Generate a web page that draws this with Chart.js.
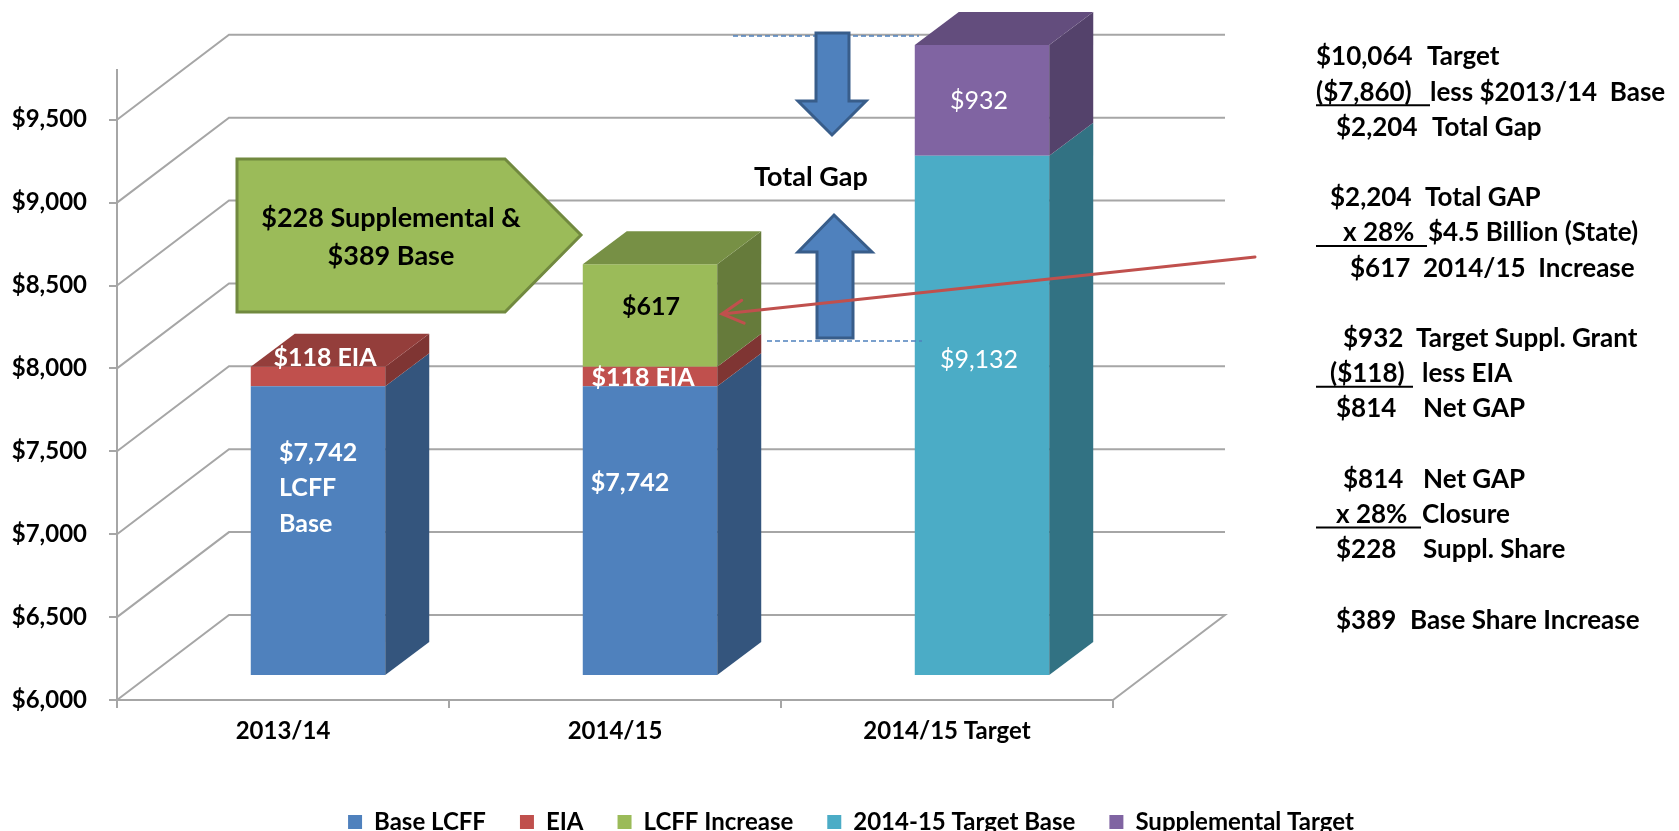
<!DOCTYPE html>
<html>
<head>
<meta charset="utf-8">
<title>LCFF Gap</title>
<script src="https://cdn.jsdelivr.net/npm/chart.js@4.4.1/dist/chart.umd.min.js"></script>
<style>
  html, body { margin: 0; padding: 0; background: #fff; }
  #wrap { position: relative; width: 1679px; height: 831px; }
</style>
</head>
<body>
<div id="wrap"><canvas id="gapChart"></canvas></div>
<script>
// ---- data ----
const categories = ['2013/14', '2014/15', '2014/15 Target'];
const baseLcff = [7742, 7742, null];
const eia = [118, 118, null];
const lcffIncrease = [null, 617, null];
const targetBase = [null, null, 9132];
const supplementalTarget = [null, null, 932];
const yTickValues = [6000, 6500, 7000, 7500, 8000, 8500, 9000, 9500];
const yMin = 6000;
const yMax = 9800;

// text on the bars, per dataset / category
const segmentText = [
    ['$7,742\nLCFF\nBase', '$7,742', null],
    ['$118 EIA', '$118 EIA', null],
    [null, '$617', null],
    [null, null, '$9,132'],
    [null, null, '$932']
];

const calloutText = ['$228 Supplemental &', '$389 Base'];
const gapText = 'Total Gap';

const calcNumbers = ['$10,064', '($7,860)', '$2,204', '$2,204', 'x 28%', '$617',
    '$932', '($118)', '$814', '$814', 'x 28%', '$228', '$389'];
const calcTexts = ['Target', 'less $2013/14  Base', 'Total Gap', 'Total GAP',
    '$4.5 Billion (State)', '2014/15  Increase', 'Target Suppl. Grant', 'less EIA',
    'Net GAP', 'Net GAP', 'Closure', 'Suppl. Share', 'Base Share Increase'];

const seriesColors = ['#4F81BD', '#C0504D', '#9BBB59', '#4BACC6', '#8064A2'];

Chart.defaults.font.family = 'Lato';
Chart.defaults.color = '#000';

// depth offsets of the fake 3D box
const WALL = { x: 112, y: -85 };
const FRONT = { x: 35, y: -25 };
const SIDE = { x: 44, y: -33 };
const GRID = '#a6a6a6';

function shade(hex, f) {
    const n = parseInt(hex.slice(1), 16);
    const r = Math.round(((n >> 16) & 255) * f);
    const g = Math.round(((n >> 8) & 255) * f);
    const b = Math.round((n & 255) * f);
    return 'rgb(' + r + ',' + g + ',' + b + ')';
}

const walls3d = {
    id: 'walls3d',
    beforeDatasetsDraw(chart) {
        const { ctx, chartArea: a } = chart;
        const y = chart.scales.y;
        ctx.save();
        ctx.strokeStyle = GRID;
        ctx.lineWidth = 2;
        yTickValues.forEach(v => {
            const py = y.getPixelForValue(v);
            ctx.beginPath();
            ctx.moveTo(a.left, py);
            ctx.lineTo(a.left + WALL.x, py + WALL.y);
            ctx.lineTo(a.right + WALL.x, py + WALL.y);
            if (v === yMin) ctx.lineTo(a.right, py);
            ctx.stroke();
        });
        ctx.restore();

        // bar fronts sit a little way into the box
        ctx.save();
        ctx.translate(FRONT.x, FRONT.y);
    },
    afterDatasetsDraw(chart) {
        const { ctx, chartArea: a } = chart;
        const tops = {};
        const faces = [];

        chart.data.datasets.forEach((ds, di) => {
            const meta = chart.getDatasetMeta(di);
            meta.data.forEach((el, i) => {
                if (ds.data[i] == null) return;
                const yt = Math.max(el.y, a.top);
                const yb = Math.min(el.base, a.bottom);
                const xl = el.x - el.width / 2;
                const xr = el.x + el.width / 2;
                faces.push({ di, i, yt, yb, xl, xr, color: ds.backgroundColor });
                if (!tops[i] || yt < tops[i].yt) tops[i] = { yt, xl, xr, color: ds.backgroundColor };
            });
        });

        faces.forEach(f => {
            ctx.fillStyle = shade(f.color, 0.66);
            ctx.beginPath();
            ctx.moveTo(f.xr, f.yt);
            ctx.lineTo(f.xr + SIDE.x, f.yt + SIDE.y);
            ctx.lineTo(f.xr + SIDE.x, f.yb + SIDE.y);
            ctx.lineTo(f.xr, f.yb);
            ctx.closePath();
            ctx.fill();
        });

        Object.values(tops).forEach(t => {
            ctx.fillStyle = shade(t.color, 0.77);
            ctx.beginPath();
            ctx.moveTo(t.xl, t.yt);
            ctx.lineTo(t.xl + SIDE.x, t.yt + SIDE.y);
            ctx.lineTo(t.xr + SIDE.x, t.yt + SIDE.y);
            ctx.lineTo(t.xr, t.yt);
            ctx.closePath();
            ctx.fill();
        });

        ctx.restore();

        // segment texts
        const spots = {
            '0-0': { dx: -39, dy: [67, 102, 138], align: 'left' },
            '0-1': { dx: -20, dy: [97] },
            '1-0': { dx: 7, dy: [-9] },
            '1-1': { dx: -7, dy: [11] },
            '2-1': { dx: 1, dy: [43], color: '#000' },
            '3-2': { dx: -3, dy: [204], weight: 'normal' },
            '4-2': { dx: -3, dy: [56], weight: 'normal' }
        };
        ctx.save();
        ctx.textBaseline = 'middle';
        faces.forEach(f => {
            const txt = segmentText[f.di][f.i];
            const s = spots[f.di + '-' + f.i];
            if (!txt || !s) return;
            const cx = (f.xl + f.xr) / 2 + FRONT.x + s.dx;
            const top = f.yt + FRONT.y;
            ctx.font = (s.weight || 'bold') + ' 25px Lato';
            ctx.fillStyle = s.color || '#fff';
            ctx.textAlign = s.align || 'center';
            txt.split('\n').forEach((line, k) => ctx.fillText(line, cx, top + s.dy[k]));
        });
        ctx.restore();
    }
};

const legendPlacer = {
    id: 'legendPlacer',
    afterLayout(chart) {
        const lg = chart.legend;
        const h = lg.bottom - lg.top;
        const pad = lg.options.labels.padding;
        const itemH = Math.max(lg.options.labels.font.size, lg.options.labels.boxHeight);
        lg.left = 0;
        lg.right = 1702;
        lg.top = 822 - pad - itemH / 2;
        lg.bottom = lg.top + h;
    }
};

function blockArrow(ctx, pts) {
    ctx.beginPath();
    pts.forEach((p, k) => (k ? ctx.lineTo(p[0], p[1]) : ctx.moveTo(p[0], p[1])));
    ctx.closePath();
    ctx.fill();
    ctx.stroke();
}

const overlay = {
    id: 'overlay',
    afterDraw(chart) {
        const ctx = chart.ctx;
        ctx.save();

        // green callout
        ctx.fillStyle = '#9BBB59';
        ctx.strokeStyle = '#71893F';
        ctx.lineWidth = 3;
        ctx.lineJoin = 'miter';
        blockArrow(ctx, [[237, 159], [505, 159], [581, 235], [505, 312], [237, 312]]);
        ctx.fillStyle = '#000';
        ctx.font = 'bold 27px Lato';
        ctx.textAlign = 'center';
        ctx.textBaseline = 'middle';
        ctx.fillText(calloutText[0], 391, 218);
        ctx.fillText(calloutText[1], 391, 256);

        // dashed guides
        ctx.strokeStyle = '#4F81BD';
        ctx.lineWidth = 1.5;
        ctx.setLineDash([5, 3]);
        ctx.beginPath();
        ctx.moveTo(733, 36); ctx.lineTo(919, 36);
        ctx.moveTo(767, 341); ctx.lineTo(922, 341);
        ctx.stroke();
        ctx.setLineDash([]);

        // gap arrows
        ctx.fillStyle = '#4F81BD';
        ctx.strokeStyle = '#385D8A';
        ctx.lineWidth = 3;
        blockArrow(ctx, [[816, 33], [849, 33], [849, 101], [866, 101], [832, 135], [798, 101], [816, 101]]);
        blockArrow(ctx, [[834, 215], [872, 252], [853, 252], [853, 338], [817, 338], [817, 252], [798, 252]]);

        ctx.fillStyle = '#000';
        ctx.font = 'bold 27px Lato';
        ctx.fillText(gapText, 811, 177);

        // worked numbers on the right
        const numX = [1316, 1316, 1336, 1330, 1343, 1350, 1343, 1330, 1336, 1343, 1336, 1336, 1336];
        const txtX = [1427, 1430, 1432, 1425, 1428, 1423, 1416, 1422, 1423, 1423, 1422, 1423, 1410];
        const row = [0, 1, 2, 4, 5, 6, 8, 9, 10, 12, 13, 14, 16];
        const rules = { 1: 1430, 4: 1427, 7: 1413, 10: 1421 };
        ctx.textAlign = 'left';
        ctx.font = 'bold 26px Lato';
        ctx.lineWidth = 2;
        ctx.strokeStyle = '#000';
        calcNumbers.forEach((n, k) => {
            const y = 57 + 35.2 * row[k];
            ctx.fillText(n, numX[k], y);
            ctx.fillText(calcTexts[k], txtX[k], y);
            if (rules[k]) {
                ctx.beginPath();
                ctx.moveTo(1316, y + 13);
                ctx.lineTo(rules[k], y + 13);
                ctx.stroke();
            }
        });

        // red pointer to the $617 block
        ctx.strokeStyle = '#C0504D';
        ctx.lineWidth = 3;
        ctx.lineCap = 'round';
        const tip = [722, 314];
        const start = [1255, 257];
        const ang = Math.atan2(start[1] - tip[1], start[0] - tip[0]);
        ctx.beginPath();
        ctx.moveTo(start[0], start[1]);
        ctx.lineTo(tip[0], tip[1]);
        ctx.moveTo(tip[0] + 24 * Math.cos(ang - 0.5), tip[1] + 24 * Math.sin(ang - 0.5));
        ctx.lineTo(tip[0], tip[1]);
        ctx.lineTo(tip[0] + 24 * Math.cos(ang + 0.5), tip[1] + 24 * Math.sin(ang + 0.5));
        ctx.stroke();

        ctx.restore();
    }
};

new Chart(document.getElementById('gapChart'), {
    type: 'bar',
    data: {
        labels: categories,
        datasets: [
            { label: 'Base LCFF', data: baseLcff, backgroundColor: seriesColors[0] },
            { label: 'EIA', data: eia, backgroundColor: seriesColors[1] },
            { label: 'LCFF Increase', data: lcffIncrease, backgroundColor: seriesColors[2] },
            { label: '2014-15 Target Base', data: targetBase, backgroundColor: seriesColors[3] },
            { label: 'Supplemental Target', data: supplementalTarget, backgroundColor: seriesColors[4] }
        ]
    },
    options: {
        responsive: true,
        maintainAspectRatio: false,
        animation: false,
        events: [],
        layout: { padding: { top: 70, left: 0, right: 0, bottom: 0 } },
        datasets: { bar: { barPercentage: 0.405, categoryPercentage: 1 } },
        plugins: {
            legend: {
                position: 'bottom',
                labels: {
                    boxWidth: 14,
                    boxHeight: 14,
                    padding: 34,
                    color: '#000',
                    font: { size: 24, weight: 'bold' }
                }
            },
            tooltip: { enabled: false }
        },
        scales: {
            x: {
                stacked: true,
                offset: true,
                grid: { display: true, drawOnChartArea: false, offset: true, tickLength: 8, color: GRID, lineWidth: 2 },
                border: { display: true, color: GRID, width: 2 },
                ticks: { color: '#000', font: { size: 24, weight: 'bold' }, padding: 9, maxRotation: 0, autoSkip: false },
                afterFit(s) { s.height = 831 - 700 - s.chart.legend.height; }
            },
            y: {
                stacked: true,
                min: yMin,
                max: yMax,
                grid: { display: true, drawOnChartArea: false, tickLength: 8, color: GRID, lineWidth: 2 },
                border: { display: true, color: GRID, width: 2 },
                ticks: {
                    color: '#000',
                    padding: 22,
                    font: { size: 24, weight: 'bold' },
                    callback: v => '$' + v.toLocaleString('en-US')
                },
                afterBuildTicks(axis) { axis.ticks = yTickValues.map(value => ({ value })); },
                afterFit(s) { s.width = 117; }
            },
            y2: {
                position: 'right',
                display: true,
                grid: { display: false },
                border: { display: false },
                ticks: { display: false },
                afterFit(s) { s.width = 566; }
            }
        }
    },
    plugins: [walls3d, legendPlacer, overlay]
});
</script>
</body>
</html>
